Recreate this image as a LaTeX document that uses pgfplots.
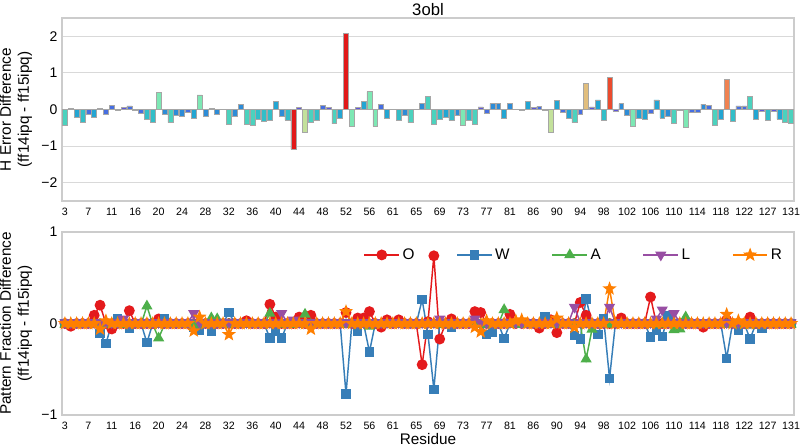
\documentclass[border=0pt]{standalone}
\usepackage{fontspec}
\setmainfont{Liberation Sans}
\usepackage{pgfplots}
\usepackage{pgfplotstable}
\pgfplotsset{compat=1.18}

% bar colours, by size of the difference
\definecolor{hb0}{RGB}{95,85,220}
\definecolor{hb1}{RGB}{70,110,225}
\definecolor{hb2}{RGB}{45,140,215}
\definecolor{hb3}{RGB}{35,165,210}
\definecolor{hb4}{RGB}{50,190,200}
\definecolor{hb5}{RGB}{75,210,190}
\definecolor{hb6}{RGB}{125,232,180}
\definecolor{hb7}{RGB}{195,225,155}
\definecolor{hb8}{RGB}{225,190,125}
\definecolor{hb9}{RGB}{240,130,80}
\definecolor{hb10}{RGB}{235,75,45}
\definecolor{hb11}{RGB}{225,25,25}
% Set1
\definecolor{sred}{HTML}{E41A1C}
\definecolor{sblue}{HTML}{377EB8}
\definecolor{sgreen}{HTML}{4DAF4A}
\definecolor{spurple}{HTML}{984EA3}
\definecolor{sorange}{HTML}{FF7F00}

\pgfdeclareplotmark{fstar}{%
  \pgfpathmoveto{\pgfpointpolar{90}{\pgfplotmarksize}}%
  \pgfpathlineto{\pgfpointpolar{126}{0.42\pgfplotmarksize}}%
  \pgfpathlineto{\pgfpointpolar{162}{\pgfplotmarksize}}%
  \pgfpathlineto{\pgfpointpolar{198}{0.42\pgfplotmarksize}}%
  \pgfpathlineto{\pgfpointpolar{234}{\pgfplotmarksize}}%
  \pgfpathlineto{\pgfpointpolar{270}{0.42\pgfplotmarksize}}%
  \pgfpathlineto{\pgfpointpolar{306}{\pgfplotmarksize}}%
  \pgfpathlineto{\pgfpointpolar{342}{0.42\pgfplotmarksize}}%
  \pgfpathlineto{\pgfpointpolar{18}{\pgfplotmarksize}}%
  \pgfpathlineto{\pgfpointpolar{54}{0.42\pgfplotmarksize}}%
  \pgfpathclose
  \pgfusepathqfillstroke}

% index, H error difference, colour bin
\pgfplotstableread{
x y b
0 -0.42 5
1 0.02 0
2 -0.22 3
3 -0.34 4
4 -0.12 1
5 -0.22 3
6 0.04 0
7 -0.12 1
8 0.12 1
9 -0.03 0
10 0.05 0
11 0.10 1
12 -0.02 0
13 -0.11 1
14 -0.28 4
15 -0.34 4
16 0.46 6
17 -0.14 2
18 -0.36 5
19 -0.15 2
20 -0.19 2
21 -0.07 1
22 -0.25 3
23 0.40 6
24 -0.19 2
25 0.02 0
26 -0.14 2
27 0.01 0
28 -0.40 5
29 -0.19 2
30 0.14 2
31 -0.40 5
32 -0.42 5
33 -0.27 4
34 -0.33 4
35 -0.29 4
36 0.22 3
37 -0.19 2
38 -0.29 4
39 -1.08 11
40 0.05 0
41 -0.62 7
42 -0.36 5
43 -0.30 4
44 0.11 1
45 0.05 0
46 -0.39 5
47 -0.25 3
48 2.07 11
49 -0.47 6
50 0.05 0
51 0.22 3
52 0.49 6
53 -0.46 6
54 0.13 1
55 -0.25 3
56 0.01 0
57 -0.30 4
58 -0.16 2
59 -0.36 5
60 0.005 0
61 0.16 2
62 0.36 5
63 -0.40 5
64 -0.27 4
65 -0.22 3
66 -0.30 4
67 -0.16 2
68 -0.44 6
69 -0.30 4
70 -0.40 5
71 0.07 0
72 -0.09 1
73 0.16 2
74 0.16 2
75 -0.23 3
76 0.16 2
77 0.01 0
78 -0.02 0
79 0.22 3
80 0.06 0
81 0.09 1
82 -0.02 0
83 -0.63 7
84 0.25 3
85 -0.07 1
86 -0.25 3
87 -0.36 5
88 -0.12 1
89 0.71 8
90 0.07 0
91 0.26 3
92 -0.30 4
93 0.89 10
94 -0.04 0
95 0.16 2
96 -0.16 2
97 -0.45 6
98 -0.25 3
99 -0.26 3
100 -0.09 1
101 0.26 3
102 -0.23 3
103 -0.19 2
104 -0.39 5
105 -0.01 0
106 -0.48 6
107 -0.07 1
108 -0.07 1
109 0.15 2
110 0.11 1
111 -0.42 5
112 -0.26 3
113 0.82 9
114 -0.33 4
115 0.10 1
116 0.10 1
117 0.36 5
118 -0.27 3
119 -0.05 0
120 -0.29 4
121 -0.05 0
122 -0.27 3
123 -0.35 5
124 -0.39 5
}\hbars

% pattern fraction differences
\pgfplotstableread{
x O W A L R
0 0 0 -0.01 0.01 0
1 -0.03 0 -0.01 0.01 0
2 0 0 -0.01 0.01 0
3 0 0 -0.01 0.01 0
4 0 0 -0.01 0.01 0
5 0.09 0 -0.01 0.01 0
6 0.20 -0.11 -0.01 0.01 -0.06
7 0 -0.22 -0.01 0.01 0.03
8 -0.06 0 -0.01 0.01 0
9 0 0.05 -0.01 0.01 0
10 0 0 -0.01 0.05 0
11 0.14 -0.05 -0.01 0.01 0
12 0 0 -0.01 0.01 0
13 0 0 -0.01 0.01 0
14 0 -0.21 0.19 0.01 0
15 0 0 -0.01 0.01 0
16 0.05 0 -0.16 0.01 0
17 0 0.05 -0.01 0.01 0
18 0 0 -0.01 0.01 0
19 0 0 -0.01 0.01 0
20 0 0 -0.01 0.01 0
21 0 0 -0.01 0.01 0
22 0 -0.04 -0.01 0.11 -0.08
23 0 -0.07 -0.01 0.01 0.07
24 0 0 -0.01 0.01 0
25 0 -0.08 0.06 0.01 0
26 0 0 0.05 0.01 0
27 0 0 -0.01 0.01 0
28 0 0.12 -0.01 0.01 -0.12
29 0 0 -0.01 0.01 0
30 0 0 -0.01 0.01 0
31 0.03 0 -0.01 0.01 0
32 0 0 -0.01 0.01 0
33 0 0 -0.01 0.01 0
34 0 0 -0.01 0.01 0
35 0.21 -0.16 0.11 0.01 0
36 0.07 -0.08 -0.01 0.01 0
37 0 -0.16 -0.01 0.11 0
38 0 0 -0.01 0.01 0
39 0 0 -0.01 0.04 0
40 0.07 0 -0.01 0.01 0
41 0 0 0.10 0.01 0
42 0.09 0 -0.01 0.01 -0.06
43 0 0 -0.01 0.01 0
44 0 0 -0.01 0.01 0
45 0 0 -0.01 0.01 0
46 0 0 -0.01 0.01 0
47 0 0 -0.01 0.01 0
48 0.12 -0.77 -0.01 0.01 0.13
49 0 0 -0.01 0.01 0
50 0.06 -0.08 -0.01 0.01 0
51 0.06 0 -0.01 0.01 0
52 0.13 -0.31 -0.03 0.01 0
53 0 0 -0.01 0.01 0
54 -0.04 0 -0.01 0.01 0
55 0.04 0 -0.01 0.01 0
56 0 0 -0.01 0.01 0
57 0.04 0 -0.01 0.01 0
58 0 0 -0.01 0.01 0
59 0 0 -0.01 0.01 0
60 0 0 -0.01 0.01 0
61 -0.45 0.26 -0.01 0.01 0
62 0.02 -0.12 -0.01 0.01 0
63 0.74 -0.72 -0.01 0.01 0
64 -0.17 0 -0.01 0.05 0
65 0 0 -0.01 0.01 0
66 0.05 -0.04 -0.01 0.01 0
67 0 0 -0.01 0.01 0
68 0 0 -0.01 0.01 0
69 0 0 -0.01 0.01 0
70 0.13 0 -0.01 0.05 -0.04
71 0.12 0 -0.01 0.01 -0.09
72 0 -0.12 -0.01 0.01 0.03
73 0 -0.10 -0.01 0.01 0
74 0 0 -0.01 0.01 0
75 0 -0.165 0.15 0.01 0
76 0.10 0 -0.01 0.01 0
77 0 0 -0.01 0.01 0.03
78 0 0 -0.01 0.01 0.04
79 0 0 -0.01 0.01 0
80 0 0 -0.01 0.01 0
81 -0.05 0 -0.01 0.01 0
82 0 0.07 -0.01 0.01 0
83 0.04 0 -0.01 0.01 0
84 -0.10 0 -0.01 0.01 0.06
85 0 0 -0.01 0.01 0
86 0 0 -0.01 0.01 0
87 0 -0.13 -0.01 0.18 -0.04
88 0.23 -0.17 -0.01 0.01 0
89 0.09 0.27 -0.39 0.01 0
90 0 0 -0.065 0.01 0
91 0 -0.12 -0.01 0.01 0
92 0 0.05 -0.01 0.01 0
93 0 -0.60 -0.01 0.18 0.38
94 0 0 -0.01 0.01 0
95 0.06 0 -0.01 0.01 0
96 0 0 -0.01 0.01 0
97 0 0 -0.01 0.01 0
98 0 0 -0.01 0.01 0
99 0 0 -0.01 0.01 0
100 0.29 -0.15 -0.01 0.01 0
101 0 -0.07 -0.01 0.05 0
102 0 -0.14 -0.01 0.15 0
103 0 0.08 -0.01 0.01 0
104 0 0 -0.07 0.11 0
105 0 0 -0.06 0.01 0
106 0 0 0.07 0.01 0
107 0 0 -0.01 0.01 0
108 0 0 -0.01 0.01 0
109 -0.04 0 -0.01 0.01 0
110 0 0 -0.01 0.01 0
111 0 0 -0.01 0.01 0
112 0 0 -0.01 0.01 0
113 0.04 -0.38 -0.01 0.01 0.10
114 0 0 -0.01 0.01 0
115 0 -0.07 -0.01 0.01 0.03
116 0 0 -0.01 0.01 0
117 0.07 -0.17 -0.02 0.01 0
118 0 0 -0.01 0.01 0
119 0 -0.05 -0.01 0.01 0
120 0 0 -0.01 0.01 0
121 0 0 -0.01 0.01 0
122 0 0 -0.01 0.01 0
123 0 0 -0.01 0.01 0
124 0 0 -0.01 0.01 0
}\patt

\pgfplotsset{
  panel/.style={
    scale only axis, width=549pt, height=137.25pt,
    xmin=-0.5, xmax=124.5,
    xtick={0,4,...,124},
    xticklabels={3,7,11,16,20,24,28,32,36,40,44,48,52,56,61,65,69,73,77,81,86,90,94,98,102,106,110,114,118,122,127,131},
    major tick length=0pt,
    axis line style={draw=black!20, line width=1pt},
    ymajorgrids, grid style={black!15, line width=0.8pt},
    xticklabel style={font=\fontsize{8}{9}\selectfont, yshift=-1.5pt},
    yticklabel style={font=\fontsize{10.5}{12}\selectfont},
    label style={font=\fontsize{11.5}{13.5}\selectfont},
    ylabel style={align=center},
    clip=false,
  },
  pline/.style={line width=1.1pt, mark options={solid}},
}

\begin{document}
\begin{tikzpicture}
\useasboundingbox (0,0) rectangle (600pt,-336pt);

\begin{axis}[panel,
  at={(46.5pt,-13.5pt)}, anchor=north west,
  ymin=-2.5, ymax=2.5,
  ytick={-2,-1,0,1,2}, yticklabels={−2,−1,0,1,2},
  ylabel={H Error Difference\\(ff14ipq - ff15ipq)},
  title={3obl},
  title style={font=\fontsize{12.5}{14}\selectfont, at={(0.5,1)}, anchor=base, yshift=-4.5pt},
]
\pgfplotsinvokeforeach{0,...,11}{
  \addplot[ybar, bar width=0.84, bar shift=0pt, fill=hb#1, draw=black!35,
    line width=0.4pt, restrict expr to domain={\thisrow{b}}{#1:#1}]
    table[x=x, y=y]{\hbars};
}
\end{axis}

\begin{axis}[panel,
  at={(46.5pt,-174pt)}, anchor=north west,
  ymin=-1, ymax=1,
  ytick={-1,0,1}, yticklabels={−1,0,1},
  ylabel={Pattern Fraction Difference\\(ff14ipq - ff15ipq)},
  xlabel={Residue},
  xlabel style={at={(0.5,0)}, anchor=base, yshift=-22pt},
  legend columns=5,
  legend style={at={(0.993,0.94)}, anchor=north east, draw=none, fill=none,
    font=\fontsize{11.5}{13.5}\selectfont,
    /tikz/every even column/.append style={column sep=29.5pt}},
  legend image code/.code={\draw[mark repeat=2, mark phase=2]
    plot coordinates {(0pt,0pt) (13pt,0pt) (26pt,0pt)};},
]
\addplot[pline, color=sred, mark=*, mark size=3.5pt] table[x=x, y=O]{\patt};
\addplot[pline, color=sblue, mark=square*, mark size=3pt] table[x=x, y=W]{\patt};
\addplot[pline, color=sgreen, mark=triangle*, mark size=3.8pt] table[x=x, y=A]{\patt};
\addplot[pline, color=spurple, mark=triangle*, mark size=3.8pt,
  mark options={rotate=180}] table[x=x, y=L]{\patt};
\addplot[pline, color=sorange, mark=fstar, mark size=4pt] table[x=x, y=R]{\patt};
\legend{O,W,A,L,R}
\end{axis}
\end{tikzpicture}
\end{document}
